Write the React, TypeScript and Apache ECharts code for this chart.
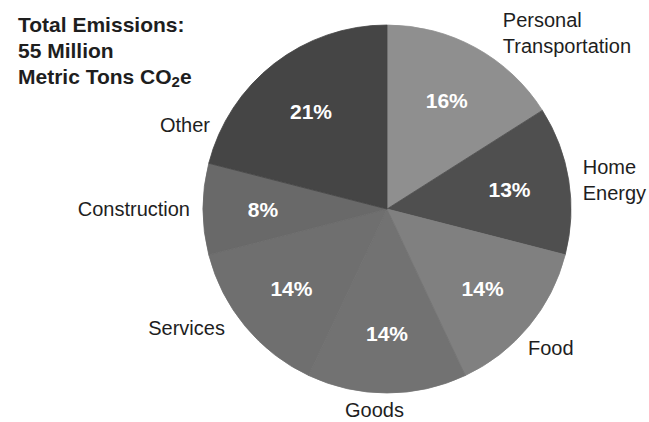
import React, { useEffect, useRef } from "react";
import * as echarts from "echarts";

const categories = [
  "Personal\nTransportation",
  "Home\nEnergy",
  "Food",
  "Goods",
  "Services",
  "Construction",
  "Other",
];
const shares = [16, 13, 14, 14, 14, 8, 21];
const sliceColors = ["#8f8f8f", "#4f4f4f", "#808080", "#727272", "#6f6f6f", "#696969", "#454545"];
// label line lengths used to place the outside category names
const labelLen = [17, 2, 34, 17, 3, 3, -78];
const labelLen2 = [14, 7, -32, -47, 13, 5, 107];

const FONT = "'Liberation Sans', Arial, sans-serif";

export default function App() {
  const ref = useRef<HTMLDivElement>(null);
  useEffect(() => {
    document.body.style.margin = "0";
    const chart = echarts.init(ref.current!, null, { renderer: "svg" });
    const center = [387, 209];
    chart.setOption({
      animation: false,
      backgroundColor: "#ffffff",
      title: {
        left: 13,
        top: 6,
        text: "Total Emissions:\n55 Million\nMetric Tons CO{sub|2}e",
        textStyle: {
          fontFamily: FONT,
          fontWeight: "bold",
          fontSize: 21,
          lineHeight: 26,
          color: "#1e1e1e",
          rich: {
            sub: {
              fontFamily: FONT,
              fontWeight: "bold",
              fontSize: 15,
              verticalAlign: "bottom",
              padding: [10, 0, 0, 0],
              color: "#1e1e1e",
            },
          },
        },
      },
      series: [
        {
          type: "pie",
          center,
          radius: 184,
          startAngle: 90,
          clockwise: true,
          avoidLabelOverlap: false,
          silent: true,
          label: {
            show: true,
            position: "outside",
            alignTo: "none",
            formatter: "{b}",
            fontFamily: FONT,
            fontSize: 20,
            lineHeight: 26,
            color: "#1e1e1e",
            distanceToLabelLine: 5,
          },
          labelLine: { show: false },
          data: categories.map((name, i) => ({
            name,
            value: shares[i],
            itemStyle: { color: sliceColors[i], borderColor: sliceColors[i], borderWidth: 0.8 },
            labelLine: { show: false, length: labelLen[i], length2: labelLen2[i] },
          })),
        },
        {
          type: "pie",
          center,
          radius: 242,
          startAngle: 90,
          clockwise: true,
          silent: true,
          avoidLabelOverlap: false,
          itemStyle: { color: "rgba(0,0,0,0)", borderWidth: 0 },
          label: {
            show: true,
            position: "inside",
            formatter: "{c}%",
            fontFamily: FONT,
            fontWeight: "bold",
            fontSize: 21,
            color: "#ffffff",
          },
          labelLine: { show: false },
          data: categories.map((name, i) => ({ name, value: shares[i] })),
        },
      ],
    });
    return () => chart.dispose();
  }, []);
  return <div ref={ref} style={{ width: 649, height: 422 }} />;
}
